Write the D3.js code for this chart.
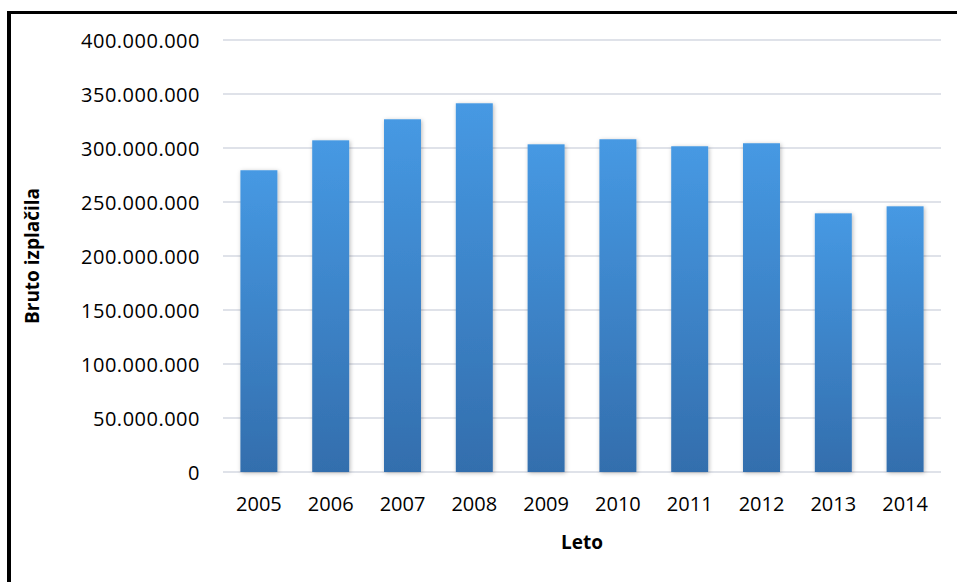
<!DOCTYPE html>
<html>
<head>
<meta charset="utf-8">
<script src="https://cdn.jsdelivr.net/npm/d3@7"></script>
<style>
  html, body { margin: 0; padding: 0; background: #ffffff; }
  svg { display: block; }
  text { font-family: "Open Sans", "Noto Sans", sans-serif; fill: #000; }
</style>
</head>
<body>
<svg id="chart" width="957" height="582"></svg>
<script>
const years = ["2005","2006","2007","2008","2009","2010","2011","2012","2013","2014"];
const payouts = [279400000, 307100000, 326600000, 341400000, 303400000, 308100000, 301600000, 304400000, 239500000, 246000000];
const yTicks = [0, 50000000, 100000000, 150000000, 200000000, 250000000, 300000000, 350000000, 400000000];
const xTitle = "Leto";
const yTitle = "Bruto izplačila";

const svg = d3.select("#chart");
const W = 957, H = 582;
const plot = { left: 223, right: 941, top: 40, bottom: 472 };

// Frame (left and top edges visible)
svg.append("rect").attr("x", 7).attr("y", 11).attr("width", 4).attr("height", H - 11).attr("fill", "#000");
svg.append("rect").attr("x", 7).attr("y", 11).attr("width", W - 7).attr("height", 3).attr("fill", "#000");

const defs = svg.append("defs");
const grad = defs.append("linearGradient").attr("id", "barGrad")
  .attr("x1", 0).attr("y1", 0).attr("x2", 0).attr("y2", 1);
grad.append("stop").attr("offset", "0%").attr("stop-color", "#4699e3");
grad.append("stop").attr("offset", "100%").attr("stop-color", "#336ead");

const shadow = defs.append("filter").attr("id", "shadow")
  .attr("x", "-30%").attr("y", "-10%").attr("width", "160%").attr("height", "120%");
shadow.append("feDropShadow").attr("dx", 1).attr("dy", 1).attr("stdDeviation", 2)
  .attr("flood-color", "#000").attr("flood-opacity", 0.28);

const x = d3.scaleBand().domain(years).range([plot.left, plot.right]).paddingInner(0.485).paddingOuter(0.2425);
const y = d3.scaleLinear().domain([0, 400000000]).range([plot.bottom, plot.top]);

const fmt = v => d3.format(",")(v).replace(/,/g, ".");

// Gridlines
svg.append("g").selectAll("line").data(yTicks).join("line")
  .attr("x1", plot.left).attr("x2", plot.right)
  .attr("y1", d => y(d)).attr("y2", d => y(d))
  .attr("stroke", "#dfe2e9").attr("stroke-width", 2);

// Y tick labels
const yAxis = d3.axisLeft(y).tickValues(yTicks).tickFormat(fmt).tickSize(0).tickPadding(0);
const yg = svg.append("g").attr("transform", "translate(200,0)").call(yAxis);
yg.select(".domain").remove();
yg.selectAll("text").attr("font-size", 20).attr("letter-spacing", "0.5px")
  .attr("font-family", "'Open Sans', sans-serif").attr("fill", "#000").attr("dy", "0.35em");

// Bars
svg.append("g").selectAll("rect").data(payouts).join("rect")
  .attr("x", (d, i) => x(years[i]))
  .attr("width", x.bandwidth())
  .attr("y", d => y(d))
  .attr("height", d => y(0) - y(d))
  .attr("fill", "url(#barGrad)")
  .attr("filter", "url(#shadow)");

// X tick labels
const xAxis = d3.axisBottom(x).tickSize(0).tickPadding(0);
const xg = svg.append("g").attr("transform", "translate(0,497)").call(xAxis);
xg.select(".domain").remove();
xg.selectAll("text").attr("font-size", 20)
  .attr("font-family", "'Open Sans', sans-serif").attr("fill", "#000").attr("dy", "0.72em");

// Axis titles
svg.append("text").attr("x", 582).attr("y", 549).attr("text-anchor", "middle")
  .attr("font-size", 19).attr("font-weight", "bold").text(xTitle);
svg.append("text").attr("transform", "translate(39,256) rotate(-90)").attr("text-anchor", "middle")
  .attr("font-size", 19).attr("font-weight", "bold").text(yTitle);
</script>
</body>
</html>
